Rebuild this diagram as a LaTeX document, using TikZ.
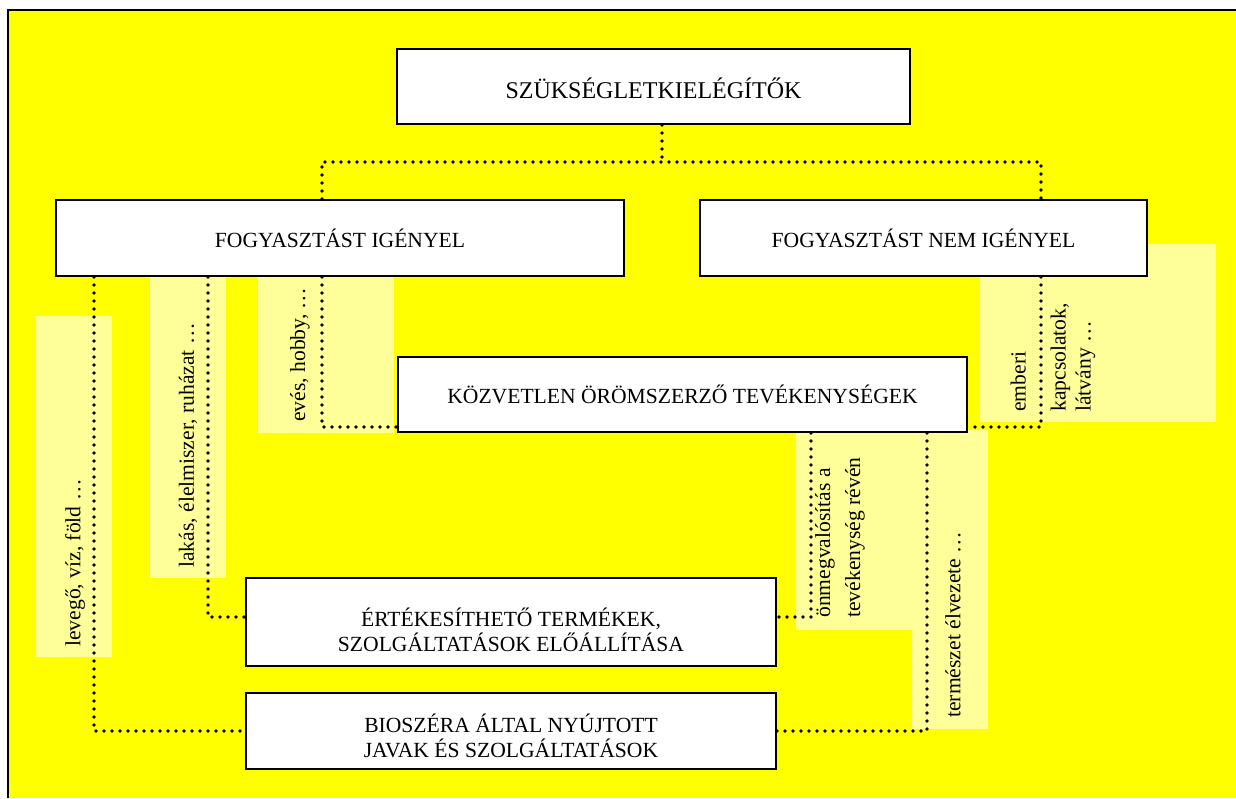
\documentclass[tikz,border=0pt]{standalone}
\usepackage{fontspec}
\setmainfont{Liberation Serif}
\usetikzlibrary{backgrounds}
\definecolor{signal}{RGB}{255,255,0}
\definecolor{pale}{RGB}{255,255,153}
\tikzstyle{box}=[draw=black,line width=1pt,fill=white,inner sep=0pt,align=center,font=\fontsize{10.8}{12.5}\selectfont]
\tikzstyle{note}=[rotate=90,anchor=west,inner sep=0pt,align=left,font=\fontsize{10.8}{12.5}\selectfont]
\tikzstyle{dotline}=[line width=1.9pt,line cap=round,dash pattern=on 0pt off 4pt]
\tikzstyle{patch}=[fill=pale]
\def\ya{427}
\def\yb{617}
\def\yc{731}

\begin{document}
\begin{tikzpicture}[x=0.5pt,y=-0.5pt]
\useasboundingbox (0,0) rectangle (1236,798);
% 1st row
\node[box,minimum width=256.5pt,minimum height=37.5pt,font=\fontsize{12}{14}\selectfont] (need) at (653.5,86.5) {\rule{0pt}{12pt}SZÜKSÉGLETKIELÉGÍTŐK};
% 2nd row
\node[box,minimum width=284pt,minimum height=38pt] (cons) at (340,238) {FOGYASZTÁST IGÉNYEL};
\node[box,minimum width=223.5pt,minimum height=38pt] (noncons) at (923.5,238) {FOGYASZTÁST NEM IGÉNYEL};
% middle
\node[box,minimum width=284.5pt,minimum height=37.5pt] (direct) at (682.5,394.5) {KÖZVETLEN ÖRÖMSZERZŐ TEVÉKENYSÉGEK};
% bottom
\node[box,minimum width=265pt,minimum height=44pt] (prod) at (511,622) {\rule{0pt}{17.5pt}ÉRTÉKESÍTHETŐ TERMÉKEK,\\SZOLGÁLTATÁSOK ELŐÁLLÍTÁSA};
\node[box,minimum width=265pt,minimum height=38pt] (bio) at (511,731) {\rule{0pt}{14.5pt}BIOSZÉRA ÁLTAL NYÚJTOTT\\JAVAK ÉS SZOLGÁLTATÁSOK};

\begin{scope}[on background layer]
\fill[signal] (8,10) rectangle (1236,798);
\draw[line width=1pt] (8,798) -- (8,10) -- (1236,10);
% pale fields behind the notes
\fill[patch] (36,316) rectangle (112,657);
\fill[patch] (150,277) rectangle (226,578);
\fill[patch] (258,277) rectangle (394,433);
\fill[patch] (980,244) rectangle (1216,422);
\fill[patch] (796,432) rectangle (930,630);
\fill[patch] (912,430) rectangle (988,729);
% links
\coordinate (split) at (662,162);
\coordinate (jl) at (322,162);
\coordinate (jr) at (1041,162);
\draw[dotline] (need.south -| split) -- (split);
\draw[dotline] (cons.north -| jl) -- (jl) -- (jr) -- (noncons.north -| jr);
\coordinate (c1) at (94,\yc);
\draw[dotline] (cons.south -| c1) -- (c1) -- (bio.west |- c1);
\coordinate (c2) at (208,\yb);
\draw[dotline] (cons.south -| c2) -- (c2) -- (prod.west |- c2);
\coordinate (c3) at (322,\ya);
\draw[dotline] (cons.south -| c3) -- (c3) -- (direct.west |- c3);
\coordinate (c4) at (1041,\ya);
\draw[dotline] (noncons.south -| c4) -- (c4) -- (direct.east |- c4);
\coordinate (c5) at (811,\yb);
\draw[dotline] (direct.south -| c5) -- (c5) -- (prod.east |- c5);
\coordinate (c6) at (927,\yc);
\draw[dotline] (direct.south -| c6) -- (c6) -- (bio.east |- c6);
\end{scope}

% notes
\node[note] (air) at (75,647) {levegő, víz, föld \dots};
\node[note] (home) at (188,568) {lakás, élelmiszer, ruházat \dots};
\node[note] (food) at (300,422) {evés, hobby, \dots};
\node[note] (self) at (840,618) {önmegvalósítás a\\[2.5pt]tevékenység révén};
\node[note] (nature) at (953,718) {természet élvezete \dots};
\node[note] (human) at (1053,412) {emberi\\[7.5pt]kapcsolatok,\\látvány \dots};
\end{tikzpicture}
\end{document}
